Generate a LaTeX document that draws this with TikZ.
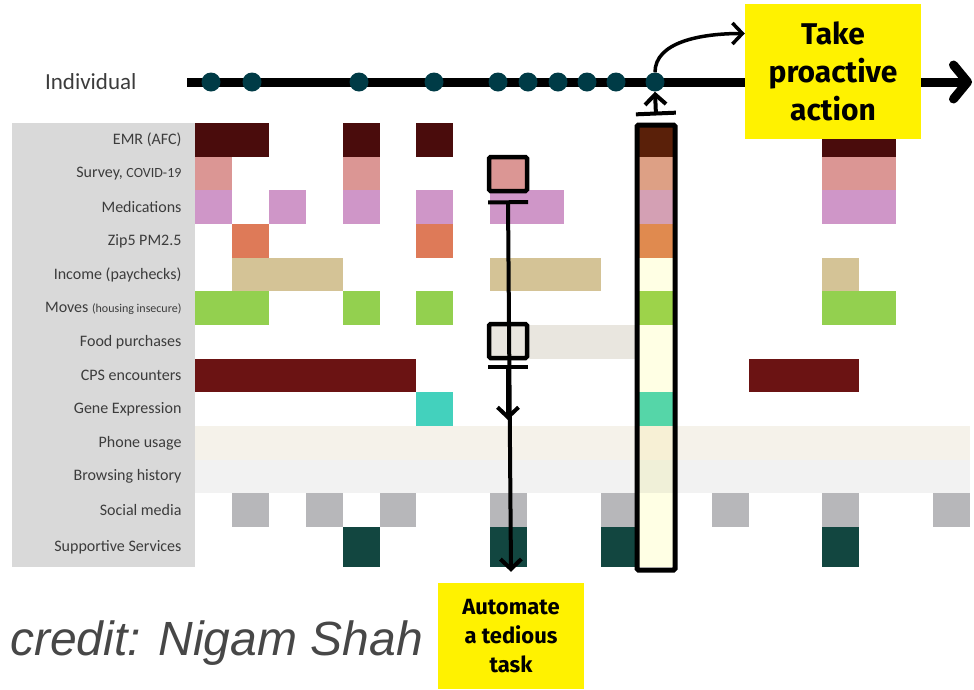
\documentclass[tikz,border=0pt]{standalone}
\usepackage{fontspec}
\setmainfont{Carlito}
\newfontfamily\calloutfont{Fira Sans}
\newfontfamily\creditfont{Liberation Sans}
\usepackage{tikz}
\usetikzlibrary{arrows.meta,positioning}

\definecolor{emr}{HTML}{4A0C0C}
\definecolor{svy}{HTML}{DB9694}
\definecolor{meds}{HTML}{CF96C8}
\definecolor{zip}{HTML}{DE7A58}
\definecolor{income}{HTML}{D4C396}
\definecolor{moves}{HTML}{93D04F}
\definecolor{food}{HTML}{E9E6DF}
\definecolor{cps}{HTML}{6B1313}
\definecolor{gene}{HTML}{43D1BD}
\definecolor{phone}{HTML}{F5F2EA}
\definecolor{browse}{HTML}{F2F2F2}
\definecolor{social}{HTML}{B7B7BA}
\definecolor{support}{HTML}{124640}
\definecolor{panel}{HTML}{D9D9D9}
\definecolor{dotcol}{HTML}{003B46}
\definecolor{labelgray}{HTML}{3C3C3C}
\definecolor{hiEmr}{HTML}{5A2009}
\definecolor{hiSvy}{HTML}{DDA085}
\definecolor{hiMeds}{HTML}{D4A0B4}
\definecolor{hiZip}{HTML}{E08A4F}
\definecolor{hiBlank}{HTML}{FFFFE4}
\definecolor{hiMoves}{HTML}{9DD34A}
\definecolor{hiGene}{HTML}{55D6A8}
\definecolor{hiPhone}{HTML}{F7F0D5}
\definecolor{hiBrowse}{HTML}{F0F0D8}

% row, first column, span, colour
\newcommand{\datacell}[4]{\fill[#4] ({195+36.9*#2},{123+33.67*#1}) rectangle ++({36.9*#3},{#1==12?40:33.67});}

\begin{document}
\begin{tikzpicture}[x=1pt, y=-1pt,
  rowlabel/.style={anchor=east, text=labelgray, font=\fontsize{16}{16}\selectfont},
  dot/.style={circle, fill=dotcol, minimum size=19, inner sep=0},
  framebox/.style={draw, line width=4.5pt, rounded corners=1.5pt, minimum width=38, minimum height=34, inner sep=0},
  callout/.style={fill=yellow, text=black, align=center, inner sep=0},
  timeline/.style={line width=9pt, -{Straight Barb[length=14pt, width=34pt, line cap=round, line join=round]}},
  pointer/.style={line width=4pt, {Bar[width=40pt]}-{Straight Barb[length=10pt, width=21pt]}}]
\useasboundingbox (0,0) rectangle (974,689);
%row labels
\fill[panel] (12,123) rectangle (195,567);
\foreach \txt [count=\r from 0] in {EMR (AFC), {Survey, {\fontsize{14}{14}\selectfont COVID-19}}, Medications, Zip5 PM2.5, Income (paychecks), {Moves {\fontsize{12}{12}\selectfont (housing insecure)}}, Food purchases, CPS encounters, Gene Expression, Phone usage, Browsing history, Social media, Supportive Services}
  \node[rowlabel] (lab\r) at (185,{\r==12?547:123+33.67*(\r+0.5)}) {\txt};
%data cells
\foreach \r/\c/\n/\col in {0/0/2/emr, 0/4/1/emr, 0/6/1/emr, 0/17/2/emr,
  1/0/1/svy, 1/4/1/svy, 1/17/2/svy,
  2/0/1/meds, 2/2/1/meds, 2/4/1/meds, 2/6/1/meds, 2/8/2/meds, 2/17/2/meds,
  3/1/1/zip, 3/6/1/zip,
  4/1/3/income, 4/8/3/income, 4/17/1/income,
  5/0/2/moves, 5/4/1/moves, 5/6/1/moves, 5/17/2/moves,
  6/9/3/food,
  7/0/6/cps, 7/15/3/cps,
  8/6/1/gene,
  9/0/21/phone, 10/0/21/browse,
  11/1/1/social, 11/3/1/social, 11/5/1/social, 11/8/1/social, 11/11/1/social, 11/14/1/social, 11/17/1/social, 11/20/1/social,
  12/4/1/support, 12/8/1/support, 12/11/1/support, 12/17/1/support}
  \datacell{\r}{\c}{\n}{\col};
\foreach \col [count=\r from 0] in {hiEmr, hiSvy, hiMeds, hiZip, hiBlank, hiMoves, hiBlank, hiBlank, hiGene, hiPhone, hiBrowse, hiBlank, hiBlank}
  \datacell{\r}{12}{1}{\col};
%timeline
\node[rowlabel, font=\fontsize{23}{23}\selectfont] (indiv) at (140,82) {Individual};
\coordinate (tstart) at (187,82);
\coordinate (tend) at (972,82);
\draw[timeline] (tstart) -- (tend);
\foreach \x [count=\i] in {211,252,359,434,498,528,558,587,616,655}
  \node[dot] (d\i) at (\x,82) {};
%framed cells
\node[framebox, fill=svy] (svybox) at (508,174) {};
\node[framebox, fill=food] (foodbox) at (508,341) {};
\node[framebox, line width=5pt, minimum height=445] (hicol) at (656,347.5) {};
%call-outs
\node[callout, minimum width=176, minimum height=135, font=\calloutfont\bfseries\fontsize{30}{38}\selectfont] (proactive) at (833,71.5) {Take\\proactive\\action};
\node[callout, minimum width=146, minimum height=106, font=\calloutfont\bfseries\fontsize{22}{29}\selectfont] (automate) at (511,636) {Automate\\a tedious\\task};
\node[anchor=base west, inner sep=0, text=black!72, font=\creditfont\itshape\fontsize{48}{48}\selectfont] (credit) at (10,655) {credit: Nigam Shah};
%arrows
\coordinate (midtip) at (508,420);
\draw[pointer] ([yshift=-7pt]svybox.south) -- ([yshift=11pt]automate.north);
\draw[pointer] ([yshift=-5pt]foodbox.south) -- (midtip);
\draw[pointer] ([yshift=7pt]hicol.north) -- (d10.south);
\draw[line width=3.5pt, -{Straight Barb[length=10pt, width=21pt]}] (d10.north) .. controls +(0,-30) and +(-45,0) .. ([yshift=38pt]proactive.west);
\end{tikzpicture}
\end{document}
